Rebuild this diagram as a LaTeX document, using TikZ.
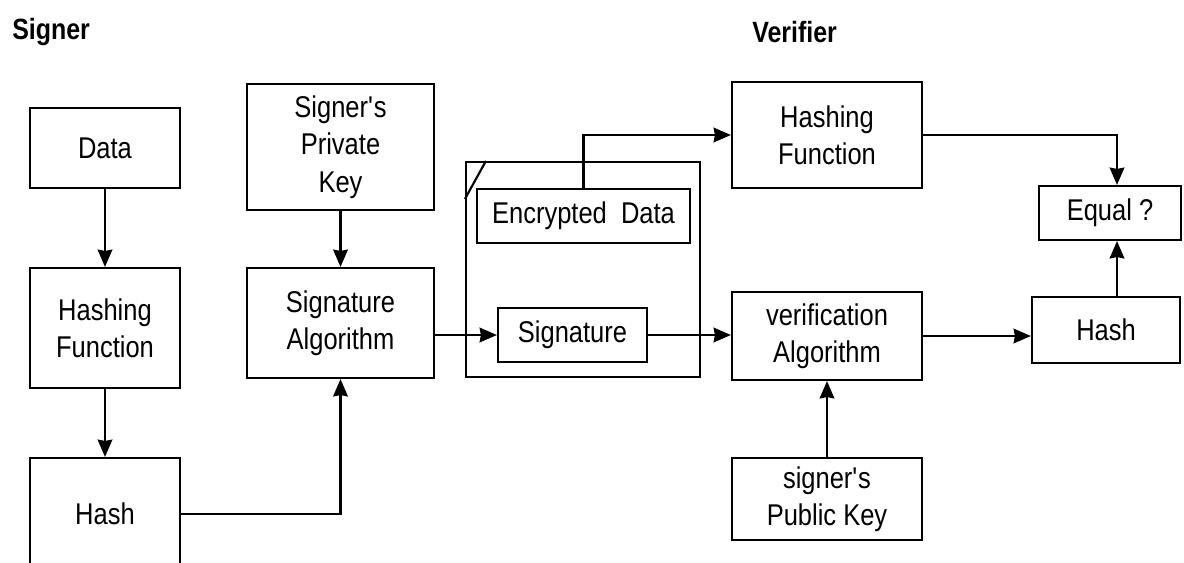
\documentclass[tikz,border=0pt]{standalone}
\usepackage{fontspec}
\setmainfont{Liberation Sans}[FakeStretch=0.85]
\usetikzlibrary{arrows.meta,positioning}
\newcommand\px[1]{#1*0.75pt}
\tikzset{
  box/.style={draw, line width=1.6pt, align=center, inner sep=0pt,
    font=\fontsize{22.5}{28}\selectfont},
  arr/.style={line width=1.6pt, -{Stealth[length=13pt,width=11pt,inset=1pt]}},
  ln/.style={line width=1.6pt},
  title/.style={font=\fontsize{22}{26}\selectfont\bfseries, anchor=west, inner sep=0pt}
}
\begin{document}
\begin{tikzpicture}[x=0.75pt,y=-0.75pt]
\useasboundingbox (0,0) rectangle (1184,562);
\clip (0,0) rectangle (1184,562);
\node[title] (tsigner) at (12,32) {Signer};
\node[title] (tverifier) at (752,32) {Verifier};

\node[box, minimum width=\px{150}, minimum height=\px{80}] (data) at (105,148) {Data};
\node[box, minimum width=\px{150}, minimum height=\px{120}] (hf1) at (105,328) {Hashing\\Function};
\node[box, minimum width=\px{150}, minimum height=\px{112}] (hash1) at (105,514) {Hash};

\node[box, minimum width=\px{187}, minimum height=\px{126}] (pk) at (340.5,147) {Signer\textquotesingle s\\Private\\Key};
\node[box, minimum width=\px{187}, minimum height=\px{110}] (sa) at (340.5,323) {Signature\\Algorithm};

\node[box, minimum width=\px{234}, minimum height=\px{215}] (outer) at (583,269.5) {};
\node[box, minimum width=\px{213}, minimum height=\px{54}] (ed) at (583.5,216) {Encrypted~ Data};
\node[box, minimum width=\px{149}, minimum height=\px{54}] (sig) at (572.5,335) {Signature};
\draw[ln] ([xshift=\px{21}]outer.north west) -- ([yshift=-\px{38}]outer.north west);

\node[box, minimum width=\px{190}, minimum height=\px{106}] (hf2) at (827,135) {Hashing\\Function};
\node[box, minimum width=\px{190}, minimum height=\px{88}] (va) at (827,336) {verification\\Algorithm};
\node[box, minimum width=\px{190}, minimum height=\px{82}] (pub) at (827,499) {signer\textquotesingle s\\Public Key};

\node[box, minimum width=\px{142}, minimum height=\px{54}] (eq) at (1110,213) {Equal ?};
\node[box, minimum width=\px{148}, minimum height=\px{66}] (hash2) at (1106,330) {Hash};

\draw[arr] (data) -- (hf1);
\draw[arr] (hf1) -- (hash1);
\draw[arr] (hash1.east) -| (sa.south);
\draw[arr] (pk) -- (sa);
\draw[arr] (sa.east |- sig.west) -- (sig.west);
\draw[arr] (sig.east) -- (sig.east -| va.west);
\draw[arr] (ed.north) |- (hf2.west);
\draw[arr] (hf2.east) -| ([xshift=\px{7}]eq.north);
\draw[arr] (va.east) -- (va.east -| hash2.west);
\draw[arr] ([xshift=\px{11}]hash2.north) -- ([xshift=\px{11}]hash2.north |- eq.south);
\draw[arr] (pub) -- (va);
\end{tikzpicture}
\end{document}
